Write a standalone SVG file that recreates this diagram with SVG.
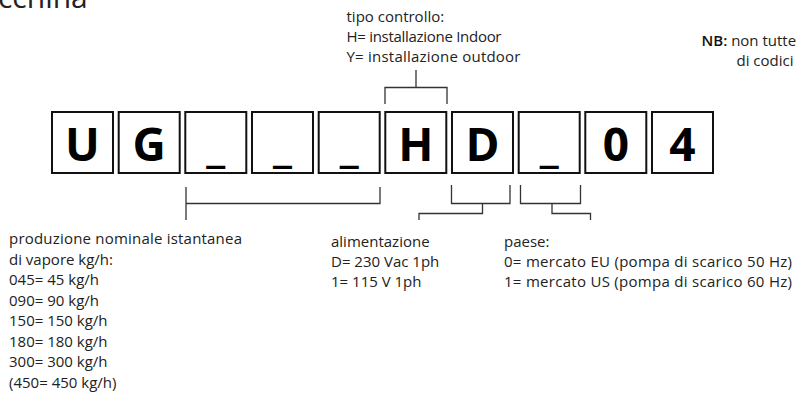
<svg xmlns="http://www.w3.org/2000/svg" width="797" height="399" viewBox="0 0 797 399">
<style>
.t{font-family:"Open Sans","Noto Sans",sans-serif;font-size:15px;fill:#222}
.b{font-weight:600;fill:#111}
.box rect{fill:#fff;stroke:#111;stroke-width:2}
.box text{font-family:"Open Sans","Noto Sans",sans-serif;font-weight:700;font-size:46px;fill:#000;text-anchor:middle}
.c{fill:none;stroke:#333;stroke-width:1.3}
</style>
<rect width="797" height="399" fill="#fff"/>
<text class="t" x="-2" y="8" style="font-size:30px">cchina</text>
<g id="boxes">
<g id="box1" class="box"><rect x="52" y="112" width="61" height="61"/><text x="82.5" y="161">U</text></g>
<g id="box2" class="box"><rect x="118.7" y="112" width="61" height="61"/><text x="149.2" y="161">G</text></g>
<g id="box3" class="box"><rect x="185.3" y="112" width="61" height="61"/><text x="215.8" y="162">_</text></g>
<g id="box4" class="box"><rect x="252" y="112" width="61" height="61"/><text x="282.5" y="162">_</text></g>
<g id="box5" class="box"><rect x="318.7" y="112" width="61" height="61"/><text x="349.2" y="162">_</text></g>
<g id="box6" class="box"><rect x="385.3" y="112" width="61" height="61"/><text x="415.8" y="161">H</text></g>
<g id="box7" class="box"><rect x="452" y="112" width="61" height="61"/><text x="482.5" y="161">D</text></g>
<g id="box8" class="box"><rect x="518.7" y="112" width="61" height="61"/><text x="549.2" y="162">_</text></g>
<g id="box9" class="box"><rect x="585.3" y="112" width="61" height="61"/><text x="615.8" y="161">0</text></g>
<g id="box10" class="box"><rect x="652" y="112" width="61" height="61"/><text x="682.5" y="161">4</text></g>
</g>
<g id="connectors">
<path class="c" d="M416 70V87.5M385 104V87.5H447V104"/>
<path class="c" d="M186 187V220M186 203.5H380V187"/>
<path class="c" d="M451.5 185V203.5H510V185M482.5 203.5V213.5H419V220"/>
<path class="c" d="M520.5 185V203.5H580.5V185M552 203.5V213.5H590.5V220"/>
</g>
<g id="label-tipo">
<text class="t" x="346.5" y="22">tipo controllo:</text>
<text class="t" x="346.5" y="42" textLength="155">H= installazione Indoor</text>
<text class="t" x="346.5" y="62" textLength="174">Y= installazione outdoor</text>
</g>
<g id="label-nb">
<text class="t" x="701.5" y="46"><tspan class="b">NB:</tspan> non tutte</text>
<text class="t" x="736.5" y="66">di codici</text>
</g>
<g id="label-produzione">
<text class="t" x="9" y="244" textLength="233">produzione nominale istantanea</text>
<text class="t" x="9" y="264.5">di vapore kg/h:</text>
<text class="t" x="9" y="285">045= 45 kg/h</text>
<text class="t" x="9" y="305.5">090= 90 kg/h</text>
<text class="t" x="9" y="326">150= 150 kg/h</text>
<text class="t" x="9" y="346.5">180= 180 kg/h</text>
<text class="t" x="9" y="367">300= 300 kg/h</text>
<text class="t" x="9" y="387.5">(450= 450 kg/h)</text>
</g>
<g id="label-alimentazione">
<text class="t" x="331" y="247">alimentazione</text>
<text class="t" x="331" y="267">D= 230 Vac 1ph</text>
<text class="t" x="331" y="287">1= 115 V 1ph</text>
</g>
<g id="label-paese">
<text class="t" x="504" y="247">paese:</text>
<text class="t" x="504" y="267" textLength="288">0= mercato EU (pompa di scarico 50 Hz)</text>
<text class="t" x="504" y="287" textLength="288">1= mercato US (pompa di scarico 60 Hz)</text>
</g>
</svg>
